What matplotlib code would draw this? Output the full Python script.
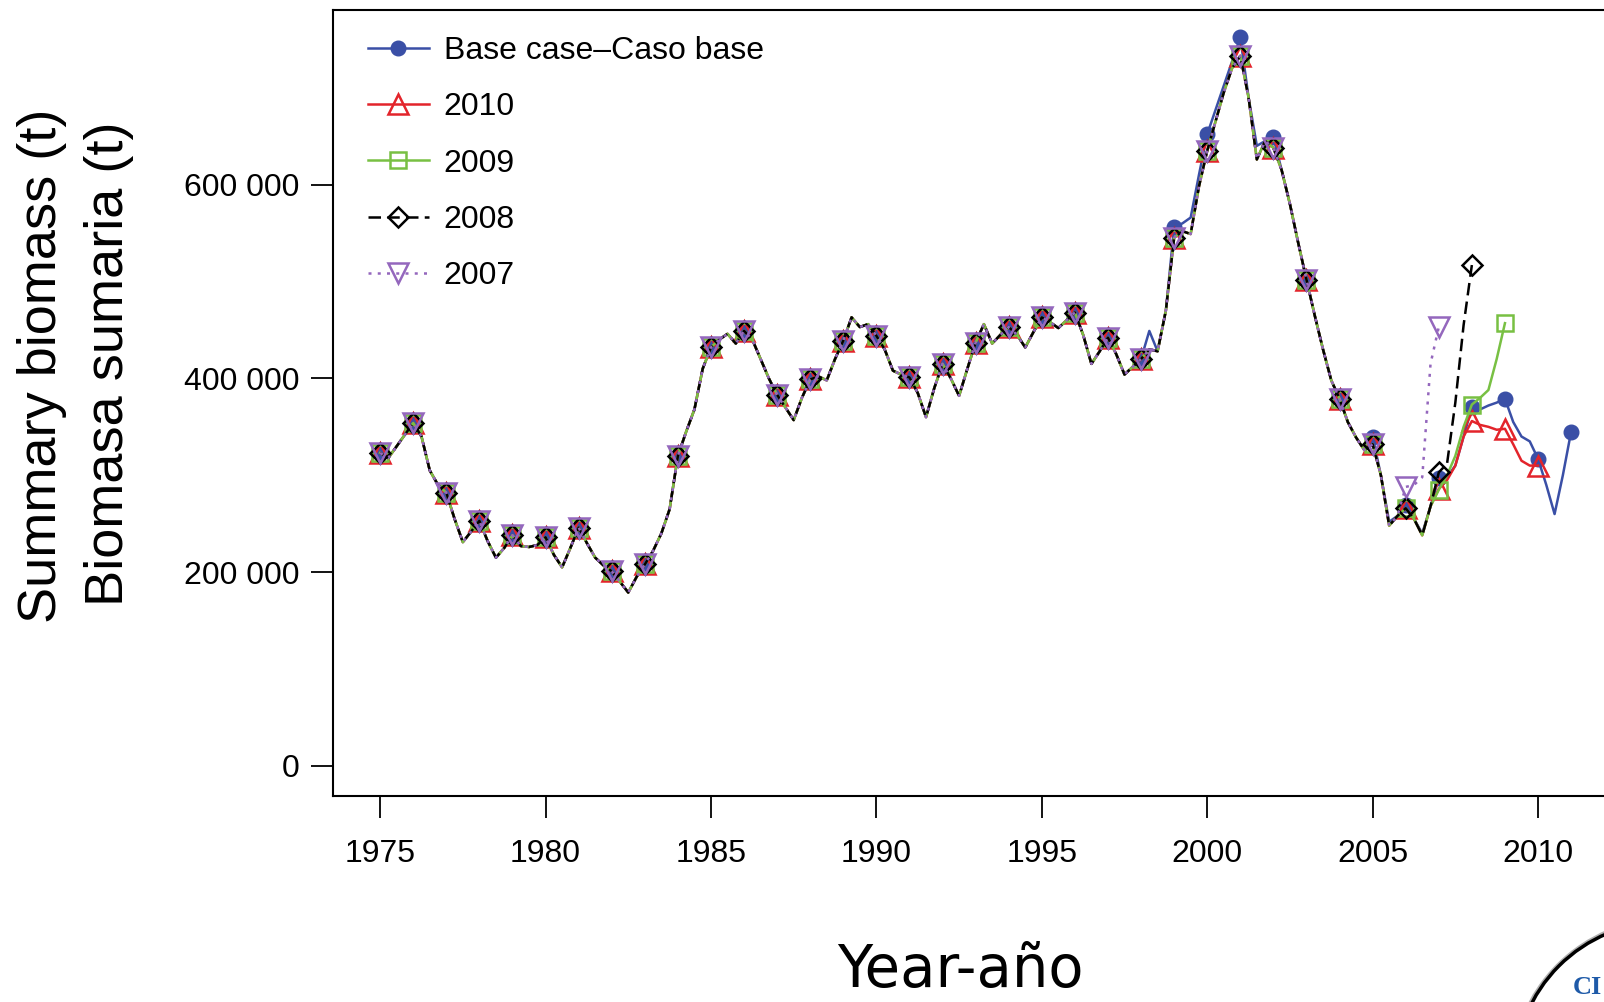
import matplotlib
matplotlib.use('Agg')
import matplotlib.pyplot as plt
import numpy as np
from matplotlib.patches import Ellipse

plt.rcParams['font.family'] = ['Liberation Sans', 'DejaVu Sans']

# summary biomass, thousands of t, quarterly from 1975.00 to 2011.00
base_case = [
    323, 318, 330, 342,   # 1975
    354, 340, 305, 290,   # 1976
    282, 255, 231, 242,   # 1977
    253, 232, 215, 225,   # 1978
    238, 227, 226, 228,   # 1979
    236, 218, 205, 225,   # 1980
    246, 230, 215, 207,   # 1981
    201, 190, 179, 195,   # 1982
    208, 222, 240, 265,   # 1983
    320, 345, 368, 410,   # 1984
    432, 440, 446, 436,   # 1985
    449, 440, 420, 400,   # 1986
    383, 370, 357, 380,   # 1987
    399, 402, 398, 420,   # 1988
    439, 463, 453, 456,   # 1989
    444, 430, 408, 404,   # 1990
    401, 385, 360, 390,   # 1991
    415, 400, 382, 410,   # 1992
    437, 456, 436, 445,   # 1993
    453, 445, 432, 448,   # 1994
    463, 458, 452, 460,   # 1995
    468, 445, 415, 428,   # 1996
    442, 425, 404, 412,   # 1997
    420, 449, 428, 470,   # 1998
    556, 560, 566, 610,   # 1999
    652, 677, 702, 727,   # 2000
    752, 690, 640, 645,   # 2001
    649, 615, 580, 540,   # 2002
    502, 465, 430, 398,   # 2003
    379, 355, 339, 326,   # 2004
    340, 300, 252, 258,   # 2005
    269, 255, 240, 268,   # 2006
    297, 298, 310, 340,   # 2007
    370, 368, 372, 375,   # 2008
    379, 355, 340, 335,   # 2009
    317, 290, 260, 300,   # 2010
    345,                  # 2011
]

# where the retrospective runs sit apart from the base case (shared part)
retro_diff = {1998.25: 430, 1999.0: 545, 1999.25: 552, 1999.5: 549,
              1999.75: 598, 2000.0: 635, 2000.25: 665, 2000.5: 695,
              2000.75: 720, 2001.0: 733, 2001.5: 626, 2002.0: 638,
              2005.0: 332, 2005.5: 248, 2006.0: 266, 2006.5: 238}

# own tail of each retrospective run
run_2010 = [286, 295, 310, 340, 356, 352, 350, 347, 348, 332, 315, 310, 310]
run_2009 = [285, 300, 320, 350, 373, 380, 388, 420, 457]
run_2008 = [303, 312, 375, 455, 517]
run_2007 = [288, 290, 298, 415, 453]
tail_start = {'2010': 2007.0, '2009': 2007.0, '2008': 2007.0, '2007': 2006.0}

years = np.arange(1975, 2012)
quarters = np.arange(years[0], years[-1] + 0.01, 0.25)

retro_common = list(base_case)
for q, v in retro_diff.items():
    retro_common[int(round((q - years[0]) * 4))] = v


def retro(tail, start):
    n = int(round((start - years[0]) * 4))
    vals = retro_common[:n] + tail
    return quarters[:len(vals)], vals


fig = plt.figure(figsize=(16.04, 10.02), dpi=100)
ax = fig.add_axes([0.2073, 0.2056, 0.8019, 0.7842])

lw = 1.8
ax.plot(quarters, base_case, color='#3a4fa6', lw=lw, marker='o', ms=10.5,
        markevery=4, label='Base case\u2013Caso base')
x, y = retro(run_2010, tail_start['2010'])
ax.plot(x, y, color='#e3242b', lw=lw, marker='^', ms=15, mfc='none', mew=1.8,
        markevery=4, label='2010')
x, y = retro(run_2009, tail_start['2009'])
ax.plot(x, y, color='#78c043', lw=lw, marker='s', ms=11, mfc='none', mew=1.8,
        markevery=4, label='2009')
x, y = retro(run_2008, tail_start['2008'])
ax.plot(x, y, color='black', lw=lw, dashes=(5, 2.5), marker='D', ms=10,
        mfc='none', mew=1.8, markevery=4, label='2008')
x, y = retro(run_2007, tail_start['2007'])
ax.plot(x, y, color='#9467bd', lw=lw, dashes=(1.2, 2.5), marker='v', ms=15,
        mfc='none', mew=1.8, markevery=4, label='2007')

ax.set_xlim(1973.56, 2012.44)
ax.set_ylim(-31, 780)
ax.set_xticks(np.arange(1975, 2011, 5))
ax.set_yticks([0, 200, 400, 600])
ax.set_yticklabels(['0', '200 000', '400 000', '600 000'])
ax.tick_params(axis='both', direction='out', length=16, width=1.3,
               labelsize=23, colors='black')
ax.tick_params(axis='y', pad=8)
ax.tick_params(axis='x', pad=15)
for s in ax.spines.values():
    s.set_linewidth(1.5)

ax.legend(loc='upper left', bbox_to_anchor=(0.0276, 0.967), frameon=False,
          fontsize=23, handlelength=1.9, handletextpad=0.47, labelspacing=0.82,
          borderpad=0, borderaxespad=0, numpoints=1)

fig.text(42.5 / 1604, 1 - 366 / 1002, 'Summary biomass (t)', rotation=90,
         ha='center', va='center', fontsize=39)
fig.text(108.5 / 1604, 1 - 364 / 1002, 'Biomasa sumaria (t)', rotation=90,
         ha='center', va='center', fontsize=39)
fig.text(960 / 1604, 1 - 987 / 1002, 'Year-a\u00f1o', ha='center',
         va='baseline', fontsize=41.5, family=['DejaVu Sans'])

# corner of the logo
shadow = Ellipse((1669 / 1604, 1 - 1076 / 1002), 312 / 1604, 312 / 1002,
                 transform=fig.transFigure, facecolor='none',
                 edgecolor='#b0b0b0', lw=4, clip_on=False)
logo = Ellipse((1665 / 1604, 1 - 1072 / 1002), 300 / 1604, 300 / 1002,
               transform=fig.transFigure, facecolor='white', edgecolor='black',
               lw=2.5, clip_on=False)
fig.patches.append(shadow)
fig.patches.append(logo)
fig.text(1573 / 1604, 1 - 994 / 1002, 'CI', ha='left', va='baseline',
         fontsize=19, fontweight='bold', color='#1e5aa8',
         family=['Liberation Serif'])

fig.savefig('out.png', dpi=100)
